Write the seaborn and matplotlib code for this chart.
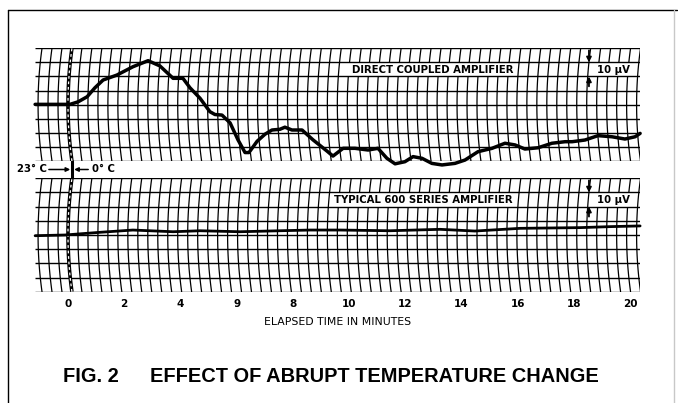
import numpy as np
import matplotlib
matplotlib.use("Agg")
import matplotlib.pyplot as plt
from matplotlib.lines import Line2D
from matplotlib.patches import Rectangle
import seaborn as sns
import pandas as pd

# tick labels as printed on the chart (the "9" is how the original prints it)
tick_pos = [0, 2, 4, 6, 8, 10, 12, 14, 16, 18, 20]
tick_labels = ["0", "2", "4", "9", "8", "10", "12", "14", "16", "18", "20"]

# direct coupled amplifier trace (minutes, chart divisions)
dc_time = [-1.17, -0.64, 0.07, 0.36, 0.68, 0.96, 1.25, 1.74, 2.31, 2.85, 3.27, 3.74,
           4.09, 4.34, 4.70, 5.05, 5.23, 5.48, 5.77, 6.05, 6.30, 6.44, 6.73, 7.01,
           7.26, 7.54, 7.72, 7.97, 8.33, 8.72, 9.22, 9.43, 9.79, 10.21, 10.68, 11.03,
           11.35, 11.64, 11.99, 12.28, 12.60, 12.95, 13.31, 13.77, 14.13, 14.59, 15.09,
           15.55, 15.91, 16.26, 16.73, 17.22, 17.69, 17.94, 18.40, 18.86, 19.36, 19.82,
           20.18, 20.36]
dc_value = [4.02, 4.02, 4.02, 4.2, 4.56, 5.2, 5.75, 6.1, 6.69, 7.12, 6.75, 5.87,
            5.87, 5.2, 4.45, 3.5, 3.3, 3.26, 2.7, 1.5, 0.6, 0.6, 1.4, 1.9,
            2.2, 2.25, 2.4, 2.2, 2.2, 1.5, 0.7, 0.35, 0.9, 0.9, 0.78, 0.9,
            0.19, -0.2, -0.05, 0.31, 0.19, -0.17, -0.28, -0.17, 0.07, 0.66, 0.9,
            1.26, 1.14, 0.85, 0.94, 1.26, 1.37, 1.37, 1.49, 1.8, 1.72, 1.56,
            1.72, 1.96]

# typical 600 series amplifier trace
t6_time = [-1.17, -0.11, 1.14, 2.31, 3.74, 4.70, 6.12, 7.54, 8.61, 9.68, 11.46,
           13.24, 14.48, 16.09, 18.22, 19.29, 20.36]
t6_value = [3.95, 4.0, 4.19, 4.35, 4.23, 4.3, 4.23, 4.3, 4.35, 4.35, 4.3,
            4.4, 4.28, 4.47, 4.52, 4.59, 4.64]

sns.set_theme(style="white")
plt.rcParams["font.family"] = ["DejaVu Sans"]
plt.rcParams["text.color"] = "black"
plt.rcParams["axes.labelcolor"] = "black"
plt.rcParams["xtick.color"] = "black"

W, H = 678, 403
XMIN, XMAX = -1.174, 20.356
BEND = 0.14      # arc bow in minutes
STEP = 0.355     # chart paper column spacing in minutes

fig = plt.figure(figsize=(W / 100, H / 100), dpi=100)
ax_top = fig.add_axes([35 / W, 1 - 161 / H, 605 / W, 112.7 / H])
ax_bot = fig.add_axes([35 / W, 1 - 291.7 / H, 605 / W, 113.4 / H])


def paper(ax, label):
    ax.set_xlim(XMIN, XMAX)
    ax.set_ylim(0, 8)
    for s in ax.spines.values():
        s.set_visible(False)
    ax.set_yticks([])
    yy = np.linspace(0, 8, 60)
    bow = BEND * ((yy - 4) / 4) ** 2
    k0 = int(np.floor(XMIN / STEP))
    k1 = int(np.ceil(XMAX / STEP))
    for k in range(k0, k1 + 1):
        if k == 0:
            continue
        ax.plot(k * STEP + bow, yy, color="black", lw=0.9, zorder=1)
    ax.hlines(range(9), XMIN, XMAX, color="black", lw=1.0, zorder=3)
    # zero line: heavy with white dashes
    ax.plot(bow, yy, color="black", lw=2.6, zorder=5, solid_capstyle="butt")
    ax.plot(bow, yy, color="white", lw=0.9, zorder=6, dashes=(2.2, 2.2))
    # label cell
    x0 = 9.79 if label.startswith("DIRECT") else 9.57
    ax.add_patch(Rectangle((x0, 6), 15.98 - x0, 1, facecolor="white",
                           edgecolor="none", zorder=2))
    ax.text(15.84, 6.24, label, ha="right", va="baseline", fontsize=7.3,
            fontweight="bold", zorder=4)
    ax.add_patch(Rectangle((18.61, 6), 1.6, 1, facecolor="white",
                           edgecolor="none", zorder=2))
    ax.text(19.43, 6.24, "10 μV", ha="center", va="baseline", fontsize=7.3,
            fontweight="bold", zorder=4)
    arrow = dict(arrowstyle="-|>", lw=1.3, color="black", mutation_scale=7,
                 shrinkA=0, shrinkB=0)
    ax.annotate("", xy=(18.54, 7.0), xytext=(18.54, 7.85), arrowprops=arrow, zorder=4)
    ax.annotate("", xy=(18.54, 6.0), xytext=(18.54, 5.3), arrowprops=arrow, zorder=4)


paper(ax_top, "DIRECT COUPLED AMPLIFIER")
paper(ax_bot, "TYPICAL 600 SERIES AMPLIFIER")

dc = pd.DataFrame({"minutes": dc_time, "div": dc_value})
t6 = pd.DataFrame({"minutes": t6_time, "div": t6_value})
sns.lineplot(data=dc, x="minutes", y="div", ax=ax_top, color="black", lw=2.5,
             sort=False, estimator=None, zorder=7, clip_on=False,
             solid_joinstyle="round", solid_capstyle="round")
sns.lineplot(data=t6, x="minutes", y="div", ax=ax_bot, color="black", lw=2.0,
             sort=False, estimator=None, zorder=7, clip_on=False,
             solid_joinstyle="round")

ax_top.set_xticks([])
ax_top.set_xlabel("")
ax_top.set_ylabel("")
ax_bot.set_ylabel("")
ax_bot.set_xticks(tick_pos)
ax_bot.set_xticklabels(tick_labels, fontsize=7.5, fontweight="bold")
ax_bot.tick_params(axis="x", length=0, pad=5)
ax_bot.set_xlabel("ELAPSED TIME IN MINUTES", fontsize=7.8, labelpad=6)

# gap between strips: solid zero line with temperature arrows
gap = -17 / 14.09
ax_top.plot([BEND, BEND], [0, gap], color="black", lw=2.2, clip_on=False, zorder=5)
harrow = dict(arrowstyle="-|>", lw=1.1, color="black", mutation_scale=6,
              shrinkA=0, shrinkB=0)
ax_top.annotate("", xy=(0.08, gap / 2), xytext=(-0.68, gap / 2),
                arrowprops=harrow, annotation_clip=False)
ax_top.annotate("", xy=(0.22, gap / 2), xytext=(0.72, gap / 2),
                arrowprops=harrow, annotation_clip=False)
ax_top.text(-0.74, gap / 2, "23° C", ha="right", va="center", fontsize=7.3,
            fontweight="bold", clip_on=False)
ax_top.text(0.85, gap / 2, "0° C", ha="left", va="center", fontsize=7.3,
            fontweight="bold", clip_on=False)

# page frame
fig.add_artist(Line2D([8 / W, 8 / W], [1 - 10 / H, 0], color="black", lw=1.0))
fig.add_artist(Line2D([8 / W, 677 / W], [1 - 10 / H, 1 - 10 / H], color="black", lw=1.0))
fig.add_artist(Line2D([674 / W, 674 / W], [1 - 10 / H, 0], color="#c8c8c8", lw=1.0))

title_font = ["Liberation Sans", "DejaVu Sans"]
fig.text(63 / W, 1 - 376 / H, "FIG. 2", ha="left", va="center", fontsize=14.4,
         fontweight="bold", family=title_font)
fig.text(150 / W, 1 - 376 / H, "EFFECT OF ABRUPT TEMPERATURE CHANGE", ha="left",
         va="center", fontsize=14.4, fontweight="bold", family=title_font)

fig.savefig("out.png", dpi=100)
